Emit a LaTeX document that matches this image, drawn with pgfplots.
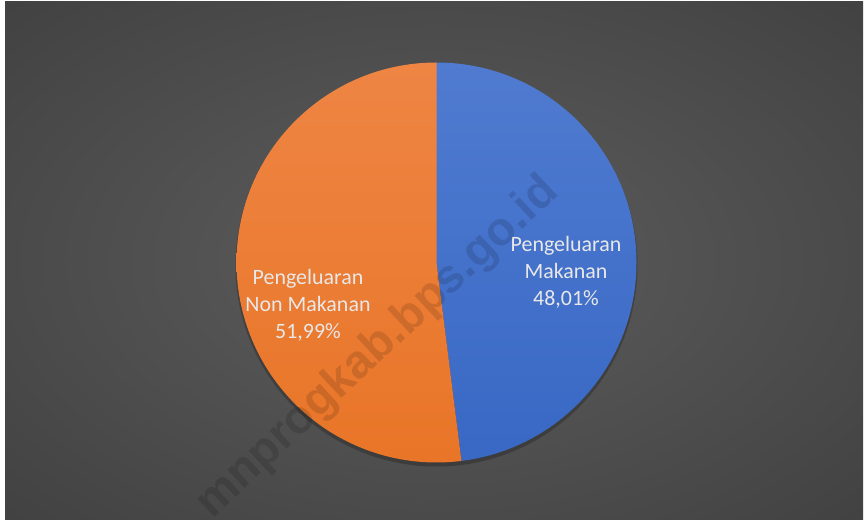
\documentclass[border=0pt]{standalone}
\usepackage{pgfplots}
\pgfplotsset{compat=1.18}
\usepackage{pgfplotstable}
\usepackage{fontspec}
\setmainfont{Carlito}
\newfontfamily\wmfont{Liberation Sans}

% data: share of spending (percent)
\pgfplotstableread[col sep=comma]{
kategori,persen
Makanan,48.01
NonMakanan,51.99
}\pengeluaran

\definecolor{bgmid}{HTML}{575757}
\definecolor{bgedge}{HTML}{262626}
\definecolor{biruA}{HTML}{5B84D6}
\definecolor{biruB}{HTML}{2D5FBF}
\definecolor{oranyeA}{HTML}{F18D52}
\definecolor{oranyeB}{HTML}{E66D19}
\definecolor{labelc}{HTML}{E8E8E8}

\pgfdeclareradialshading{latar}{\pgfpoint{0bp}{0bp}}{color(0bp)=(bgmid); color(8bp)=(bgmid); color(71bp)=(bgedge)}
\pgfdeclareverticalshading{biru}{100bp}{color(0bp)=(biruB); color(100bp)=(biruA)}
\pgfdeclareverticalshading{oranye}{100bp}{color(0bp)=(oranyeB); color(100bp)=(oranyeA)}

\begin{document}
\begin{tikzpicture}
\pgfplotstablegetelem{0}{persen}\of\pengeluaran \let\pmakan\pgfplotsretval
\pgfplotstablegetelem{1}{persen}\of\pengeluaran \let\pnon\pgfplotsretval
\pgfmathsetmacro{\sudut}{\pmakan/(\pmakan+\pnon)*360}
\path[use as bounding box] (0,0) rectangle (866bp,520bp);
\clip (0,0) rectangle (866bp,520bp);
\fill[white] (0,0) rectangle (866bp,520bp);
\begin{axis}[
    at={(0,0)}, anchor=south west,
    scale only axis,
    width=866bp, height=520bp,
    xmin=0, xmax=866, ymin=0, ymax=520,
    hide axis,
    clip=false,
    /pgf/number format/assume math mode=true,
]
\shade[shading=latar] (axis cs:5,0) rectangle (axis cs:863,518);
% soft shadow under the pie
\fill[black, opacity=0.22] (axis cs:436.5,254.5) circle[radius=201bp];
% slices, clockwise from 12 o'clock
\shade[shading=biru] (axis cs:436.5,257.5) -- ++(90:200bp)
    arc[start angle=90, end angle=90-\sudut, radius=200bp] -- cycle;
\shade[shading=oranye] (axis cs:436.5,257.5) -- ++(90:200bp)
    arc[start angle=90, end angle=450-\sudut, radius=200bp] -- cycle;
% labels
\node[align=center, text=labelc, font=\fontsize{22}{27}\selectfont]
    at (axis cs:566,248) {Pengeluaran\\Makanan\\\pgfmathprintnumber[use comma, fixed, precision=2, fixed zerofill, assume math mode=true]{\pmakan}\%};
\node[align=center, text=labelc, font=\fontsize{22}{27}\selectfont]
    at (axis cs:308,215) {Pengeluaran\\Non Makanan\\\pgfmathprintnumber[use comma, fixed, precision=2, fixed zerofill, assume math mode=true]{\pnon}\%};
% watermark
\node[rotate=43, text=black, opacity=0.13, font=\wmfont\bfseries\fontsize{47}{50}\selectfont]
    at (axis cs:378,172) {mnprogkab.bps.go.id};
\end{axis}
\end{tikzpicture}
\end{document}
